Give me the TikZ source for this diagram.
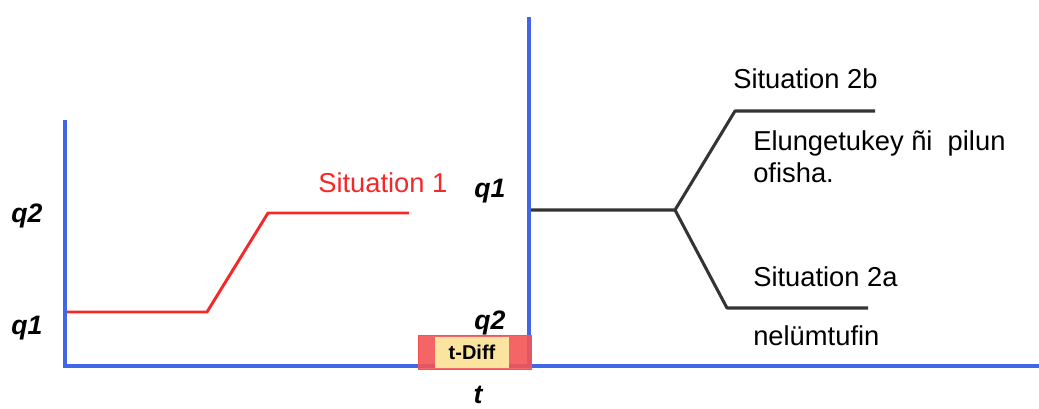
\documentclass[tikz,border=0pt]{standalone}
\usepackage{fontspec}
\setmainfont{Liberation Sans}
\usetikzlibrary{positioning}

\definecolor{axisblue}{RGB}{66,102,232}
\definecolor{sitred}{RGB}{245,40,40}
\definecolor{branchgray}{RGB}{52,52,52}
\definecolor{diffred}{RGB}{244,84,84}
\definecolor{diffyellow}{RGB}{250,228,160}

\tikzset{
  axis/.style={draw=axisblue, line width=3pt},
  redline/.style={draw=sitred, line width=2.2pt, line join=round},
  branch/.style={draw=branchgray, line width=2.3pt, line join=round},
  txt/.style={inner sep=0pt, font=\fontsize{20.5}{24}\selectfont},
  qlabel/.style={inner sep=0pt, font=\fontsize{20}{24}\selectfont\bfseries\itshape}
}

\begin{document}
\begin{tikzpicture}[x=0.75pt, y=-0.75pt]

  \useasboundingbox (0,0) rectangle (1039,408);

  % Axes
  \coordinate (O1) at (65,366);
  \coordinate (Y1) at (65,120);
  \coordinate (O2) at (529,366);
  \coordinate (Y2) at (529,17);
  \coordinate (Xend) at (1039,366);
  \draw[axis] (Y1) -- (O1) -- (Xend);
  \draw[axis] (Y2) -- (O2);

  % Situation 1
  \coordinate (r0) at (67,312);
  \coordinate (r1) at (207,312);
  \coordinate (r2) at (268,213);
  \coordinate (r3) at (409,213);
  \draw[redline] (r0) -- (r1) -- (r2) -- (r3);
  \node[txt, text=sitred, anchor=base west] (sit1) at (318,192) {Situation 1};

  % Situation 2
  \coordinate (b0) at (531,210);
  \coordinate (fork) at (675,210);
  \coordinate (bup) at (735,111);
  \coordinate (bupend) at (875,111);
  \coordinate (bdn) at (727,308);
  \coordinate (bdnend) at (868,308);
  \draw[branch] (b0) -- (fork) -- (bup) -- (bupend);
  \draw[branch] (fork) -- (bdn) -- (bdnend);
  \node[txt, anchor=base west] (sit2b) at (733,88) {Situation 2b};
  \node[txt, anchor=base west, align=left] (text2b) at (753,182) {Elungetukey ñi\ \ pilun\\ofisha.};
  \node[txt, anchor=base west] (sit2a) at (753,286) {Situation 2a};
  \node[txt, anchor=base west] (text2a) at (753,345) {nelümtufin};

  % Axis labels
  \node[qlabel, anchor=base west] (q2l) at (11,222) {q2};
  \node[qlabel, anchor=base west] (q1l) at (11,334) {q1};
  \node[qlabel, anchor=base west] (q1r) at (474,197) {q1};
  \node[qlabel, anchor=base west] (q2r) at (474,329) {q2};
  \node[qlabel, anchor=base] (tl) at (478,403) {t};

  % t-Diff box
  \node[draw=diffred, fill=diffred, fill opacity=0.9, minimum width=84.75pt, minimum height=25.5pt, inner sep=0pt] (diffbox) at (474.5,352.5) {};
  \node[fill=diffyellow, minimum width=55.5pt, minimum height=23pt, inner sep=0pt, font=\fontsize{15}{17}\selectfont\bfseries] (diff) at (472,352.5) {t-Diff};

\end{tikzpicture}
\end{document}
